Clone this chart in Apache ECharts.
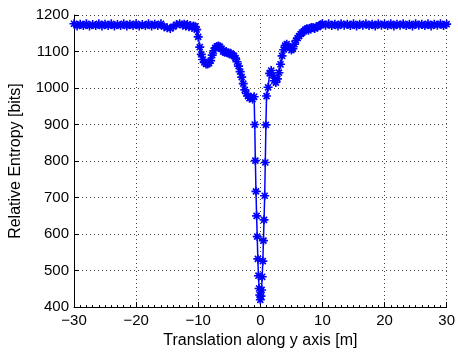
<!DOCTYPE html>
<html lang="en" style="background: #FFFFFF;height: 100%">

<head>
    <meta charset="utf-8" />
    <title>Relative entropy vs translation</title>
    <script type="text/javascript" src="https://cdn.jsdelivr.net/npm/echarts@6/dist/echarts.min.js"></script>
</head>

<body style="margin: 0;height: 100%">
    <div id="chart" style="width:458px;height:354px"></div>
    <script>
    // translation [m] - coarse on the flat parts, fine around the dip
    let xs = [
        -30, -29.5, -29, -28.5, -28, -27.5, -27, -26.5, -26, -25.5, -25, -24.5, -24, -23.5, -23, -22.5, -22, -21.5,
        -21, -20.5, -20, -19.5, -19, -18.5, -18, -17.5, -17, -16.5, -16, -15.5, -15, -14.5, -14, -13.5, -13,
        -12.5, -12.25, -12, -11.75, -11.5, -11.25, -11, -10.75, -10.5, -10.25, -10, -9.75, -9.5, -9.25, -9, -8.75,
        -8.5, -8.25, -8, -7.75, -7.5, -7.25, -7, -6.75, -6.5, -6.25, -6, -5.75, -5.5, -5.25, -5, -4.75, -4.5, -4.25,
        -4, -3.75, -3.5, -3.25, -3, -2.75, -2.5, -2.25, -2, -1.75, -1.5, -1.25, -1,
        -0.9, -0.8, -0.7, -0.6, -0.5, -0.4, -0.3, -0.2, -0.1, 0, 0.1, 0.2, 0.3, 0.4, 0.5, 0.6, 0.7, 0.8, 0.9,
        1, 1.25, 1.5, 1.75, 2, 2.25, 2.5, 2.75, 3, 3.25, 3.5, 3.75, 4, 4.25, 4.5, 4.75, 5, 5.25, 5.5, 5.75, 6,
        6.25, 6.5, 6.75, 7, 7.25, 7.5, 7.75, 8, 8.25, 8.5, 8.75, 9, 9.25, 9.5, 9.75, 10,
        10.5, 11, 11.5, 12, 12.5, 13, 13.5, 14, 14.5, 15, 15.5, 16, 16.5, 17, 17.5, 18, 18.5, 19, 19.5, 20,
        20.5, 21, 21.5, 22, 22.5, 23, 23.5, 24, 24.5, 25, 25.5, 26, 26.5, 27, 27.5, 28, 28.5, 29, 29.5, 30
    ]
    // relative entropy [bits]
    let ys = [
        1176, 1170, 1175, 1171, 1176, 1170, 1174, 1171, 1176, 1170, 1175, 1171, 1176, 1170, 1174, 1171, 1176, 1170,
        1175, 1171, 1176, 1170, 1174, 1171, 1176, 1170, 1175, 1171, 1176, 1168, 1165, 1163, 1168, 1174, 1176,
        1172, 1175, 1170, 1174, 1168, 1171, 1166, 1170, 1168, 1160, 1140, 1112, 1092, 1078, 1070, 1066,
        1066, 1068, 1075, 1090, 1102, 1110, 1114, 1115, 1113, 1108, 1100, 1098, 1100, 1096, 1094, 1095, 1090, 1088,
        1082, 1072, 1060, 1045, 1030, 1012, 995, 985, 978, 972, 975, 970, 976,
        900, 801, 717, 650, 593, 532, 486, 451, 433, 420, 430, 447, 483, 526, 582, 639, 705, 796, 899,
        978, 1002, 1040, 1048, 1035, 1020, 1015, 1025, 1042, 1065, 1088, 1105, 1116, 1120, 1114, 1110, 1104, 1108, 1120, 1130, 1137,
        1142, 1148, 1152, 1155, 1160, 1162, 1158, 1164, 1166, 1165, 1163, 1168, 1167, 1171, 1173, 1176,
        1172, 1176, 1171, 1175, 1170, 1176, 1172, 1175, 1171, 1176, 1170, 1175, 1172, 1176, 1171, 1175, 1170, 1176, 1172, 1175,
        1171, 1176, 1170, 1175, 1172, 1176, 1171, 1175, 1170, 1176, 1172, 1175, 1171, 1176, 1170, 1175, 1172, 1176, 1171, 1175
    ]
    let xTicks = { min: -30, max: 30, step: 10 }
    let yTicks = { min: 400, max: 1200, step: 100 }

    // matlab style '*' marker (plus + cross), thick arms
    let asterisk = 'path://M4.1 0L5.9 0L5.9 10L4.1 10Z M0 4.1L10 4.1L10 5.9L0 5.9Z ' +
        'M1 2.3L2.3 1L9 7.7L7.7 9Z M7.7 1L9 2.3L2.3 9L1 7.7Z'

    let font = 'Liberation Sans, Arial, Helvetica, sans-serif'
    let gridLine = { show: true, lineStyle: { color: '#444', width: 1, type: [1, 3] } }

    let chart = echarts.init(document.getElementById('chart'))
    chart.setOption({
        animation: false,
        grid: { left: 74, right: 9, top: 15, bottom: 43 },
        xAxis: {
            type: 'value',
            min: xTicks.min,
            max: xTicks.max,
            interval: xTicks.step,
            name: 'Translation along y axis [m]',
            nameLocation: 'middle',
            nameGap: 20,
            nameTextStyle: { color: '#000', fontSize: 16, fontFamily: font },
            axisLine: { onZero: false, lineStyle: { color: '#000', width: 1 } },
            axisTick: { inside: true, length: 5, lineStyle: { color: '#000' } },
            minorTick: { show: true, splitNumber: 10, length: 2, lineStyle: { color: '#000' } },
            axisLabel: {
                color: '#000', fontSize: 15, fontFamily: font, margin: 6,
                formatter: v => String(v).replace('-', '\u2212')
            },
            splitLine: gridLine
        },
        yAxis: {
            type: 'value',
            min: yTicks.min,
            max: yTicks.max,
            interval: yTicks.step,
            name: 'Relative Entropy [bits]',
            nameLocation: 'middle',
            nameGap: 50,
            nameTextStyle: { color: '#000', fontSize: 16, fontFamily: font },
            axisLine: { show: true, onZero: false, lineStyle: { color: '#000', width: 1 } },
            axisTick: { show: true, inside: true, length: 5, lineStyle: { color: '#000' } },
            axisLabel: { color: '#000', fontSize: 15, fontFamily: font, margin: 5, formatter: v => String(v) },
            splitLine: gridLine
        },
        series: [{
            type: 'line',
            data: xs.map((x, i) => [x, ys[i]]),
            symbol: asterisk,
            symbolSize: 9,
            showAllSymbol: true,
            lineStyle: { color: '#0000ff', width: 1.5 },
            itemStyle: { color: '#0000ff' }
        }]
    })
    </script>
</body>

</html>
